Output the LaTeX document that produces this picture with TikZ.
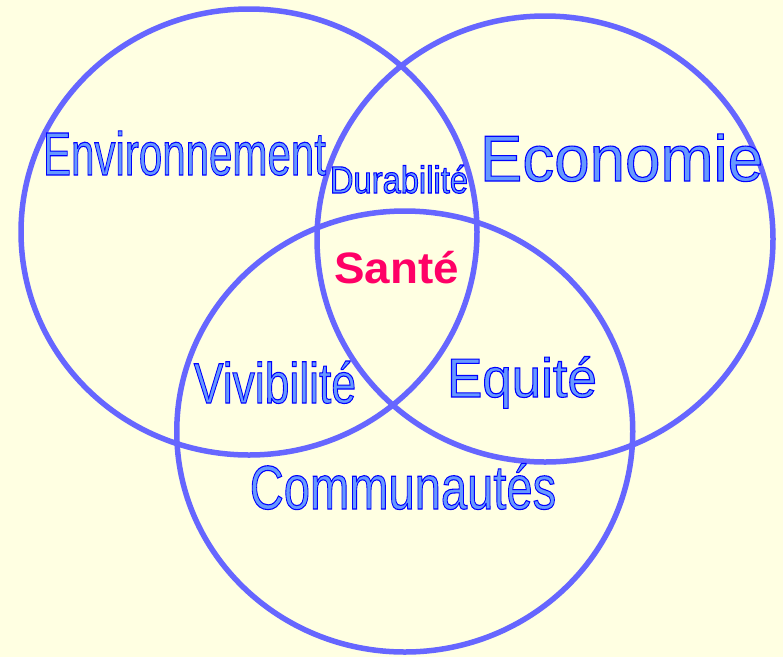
\documentclass[tikz,border=0pt]{standalone}
\usepackage{fontspec}
\setmainfont{Liberation Sans}
\usepackage{graphicx}
\definecolor{bgc}{HTML}{FFFFE2}
\definecolor{ringc}{HTML}{6666FF}
\definecolor{txtfill}{HTML}{6699FF}
\definecolor{santec}{HTML}{FF0066}
\newcommand\olt[1]{\special{pdf:literal direct 2 Tr 1.1 w 0 0 1 RG}#1\special{pdf:literal direct 0 Tr}}
\newcommand\lbl[3]{\scalebox{#2}[1]{\fontsize{#1}{#1}\selectfont\olt{#3}}}
\tikzset{
  ring/.style={draw=ringc, line width=5.5pt},
  word/.style={inner sep=0pt, anchor=base, text=txtfill},
}
\begin{document}
\begin{tikzpicture}[x=1pt,y=-1pt]
\fill[bgc] (0,0) rectangle (783,657);
\useasboundingbox (0,0) rectangle (783,657);
\draw[ring] (249,232) ellipse [x radius=228, y radius=223];
\draw[ring] (545,239) ellipse [x radius=228, y radius=223];
\draw[ring] (404.75,431.5) ellipse [x radius=228, y radius=220.5];
\node[word] (env) at (184.5,175) {\lbl{61}{0.69}{Environnement}};
\node[word] (eco) at (621.5,181) {\lbl{65}{0.98}{Economie}};
\node[word] (dur) at (399,193) {\lbl{38}{0.86}{Durabilité}};
\node[inner sep=0pt, anchor=base, text=santec] (san) at (396.5,283) {\scalebox{1.04}[1]{\fontsize{44}{44}\selectfont\bfseries Santé}};
\node[word] (viv) at (275,403) {\lbl{57}{0.78}{Vivibilité}};
\node[word] (equ) at (522,397) {\lbl{55}{0.96}{Equité}};
\node[word] (com) at (403,509) {\lbl{62}{0.76}{Communautés}};
\end{tikzpicture}
\end{document}
